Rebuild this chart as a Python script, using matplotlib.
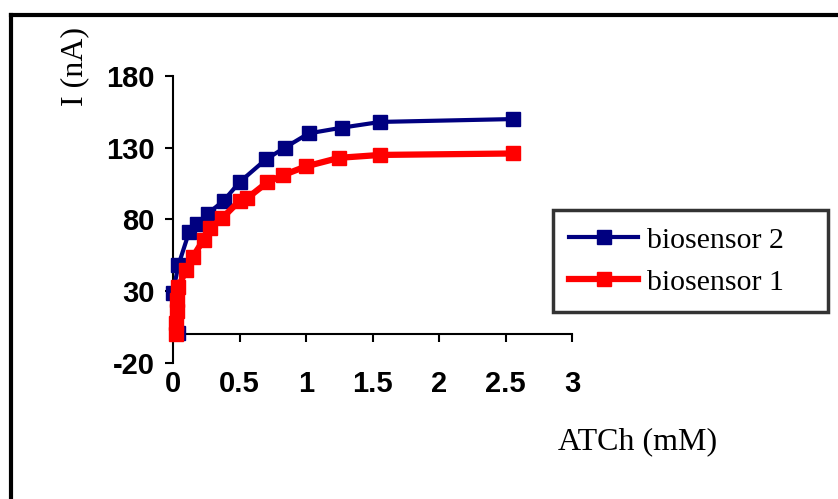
# ATCh calibration curves for the two biosensors

import matplotlib
matplotlib.use("Agg")
import matplotlib.pyplot as plt
from matplotlib.lines import Line2D

# values
conc_2 = [0.04, 0.0, 0.04, 0.12, 0.18, 0.26, 0.38, 0.5, 0.7, 0.84, 1.02, 1.27, 1.56, 2.56]
curr_2 = [1, 29, 48, 71, 77, 84, 93, 106, 122, 130, 140, 144, 148, 150]

conc_1 = [0.02, 0.02, 0.03, 0.03, 0.04, 0.1, 0.15, 0.23, 0.28, 0.37, 0.5, 0.56, 0.71, 0.83, 1.0, 1.25, 1.56, 2.56]
curr_1 = [0, 8, 16, 24, 33, 45, 54, 66, 74, 81, 93, 95, 106, 111, 117, 123, 125, 126]

label_2 = "biosensor 2"
label_1 = "biosensor 1"
xticks = [0, 0.5, 1, 1.5, 2, 2.5, 3]
yticks = [-20, 30, 80, 130, 180]

tick_font = dict(family=["Liberation Sans Narrow", "Liberation Sans"], weight="bold", size=21)
serif = ["Liberation Serif", "DejaVu Serif"]

fig = plt.figure(figsize=(8.38, 4.99), dpi=100)
W, H = 838.0, 499.0
ax = fig.add_axes([173 / W, 1 - 363 / H, (572 - 173) / W, (363 - 76) / H])

ax.spines["top"].set_visible(False)
ax.spines["right"].set_visible(False)
ax.spines["bottom"].set_position(("data", 0))
for s in ("left", "bottom"):
    ax.spines[s].set_linewidth(1.5)

# blue drawn first, red on top
ax.plot(conc_2, curr_2, color="#000080", lw=3, marker="s", ms=10.5, mec="#000080", label=label_2,
        clip_on=False, zorder=3)
ax.plot(conc_1, curr_1, color="#ff0000", lw=4.5, marker="s", ms=9.5, mec="#ff0000", label=label_1,
        clip_on=False, zorder=4)

ax.set_xlim(0, 3)
ax.set_ylim(-20, 180)
ax.set_xticks(xticks)
ax.set_xticklabels([f"{t:g}" for t in xticks], fontdict=tick_font)
ax.set_yticks(yticks)
ax.set_yticklabels([str(t) for t in yticks], fontdict=tick_font)
ax.tick_params(axis="y", direction="out", length=6, width=1.5, pad=7)
ax.tick_params(axis="x", direction="out", length=6, width=1.5, pad=20)

# axis titles placed like the original
fig.text(638 / W, 1 - 442 / H, "ATCh (mM)", family=serif, size=23, ha="center", va="center")
fig.text(75 / W, 1 - 67 / H, "I (nA)", family=serif, size=23, ha="center", va="center", rotation=90)

leg = ax.legend(loc="lower left", bbox_to_anchor=(553 / W, 1 - 312 / H, (828 - 553) / W, (312 - 204) / H),
                bbox_transform=fig.transFigure, mode="expand", frameon=True, fancybox=False,
                prop=dict(family=serif, size=21.5), handlelength=2.3, handletextpad=0.3,
                labelspacing=0.5, borderpad=0.55, borderaxespad=0)
leg.get_frame().set_edgecolor("black")
leg.get_frame().set_linewidth(2.5)

# outer frame of the picture (runs off the right and bottom edges)
fig.add_artist(Line2D([11 / W, 1.01], [1 - 15 / H, 1 - 15 / H], color="black", lw=3, transform=fig.transFigure))
fig.add_artist(Line2D([11 / W, 11 / W], [1 - 15 / H, -0.01], color="black", lw=3, transform=fig.transFigure))

fig.savefig("out.png", dpi=100)
